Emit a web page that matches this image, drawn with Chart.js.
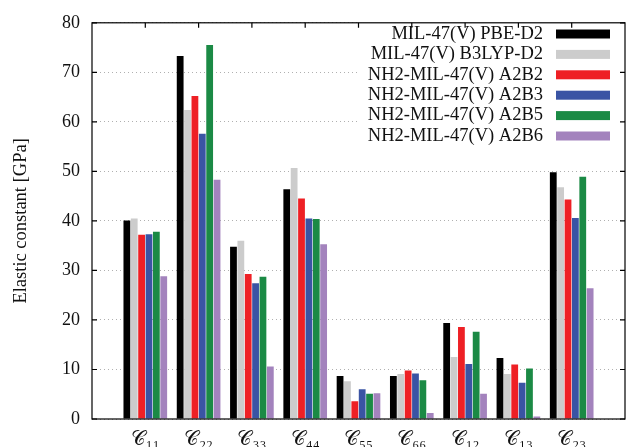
<!DOCTYPE html>
<html lang="en">
<head>
  <meta charset="UTF-8">
  <title>Elastic constants</title>
  <script src="https://cdn.jsdelivr.net/npm/chart.js@4.4.1/dist/chart.umd.min.js"></script>
  <style>
    body { margin: 0; background: #fff; }
    #wrap { width: 634px; height: 447px; }
  </style>
</head>
<body>
  <div id="wrap"><canvas id="myChart"></canvas></div>

  <script>
  // data
  var categories = ['𝒞₁₁', '𝒞₂₂', '𝒞₃₃', '𝒞₄₄', '𝒞₅₅', '𝒞₆₆', '𝒞₁₂', '𝒞₁₃', '𝒞₂₃'];
  var seriesNames = ['MIL-47(V) PBE-D2', 'MIL-47(V) B3LYP-D2', 'NH2-MIL-47(V) A2B2',
                     'NH2-MIL-47(V) A2B3', 'NH2-MIL-47(V) A2B5', 'NH2-MIL-47(V) A2B6'];
  var pbeD2   = [40.1, 73.3, 34.8, 46.4, 8.7, 8.7, 19.4, 12.3, 49.8];
  var b3lypD2 = [40.5, 62.4, 36.0, 50.7, 7.6, 9.1, 12.5, 9.1, 46.8];
  var a2b2    = [37.2, 65.2, 29.3, 44.5, 3.6, 9.8, 18.6, 11.0, 44.3];
  var a2b3    = [37.3, 57.6, 27.4, 40.5, 6.0, 9.2, 11.1, 7.3, 40.6];
  var a2b5    = [37.8, 75.5, 28.7, 40.4, 5.1, 7.8, 17.6, 10.2, 48.9];
  var a2b6    = [28.8, 48.3, 10.6, 35.3, 5.2, 1.2, 5.1, 0.5, 26.4];
  var yTicks  = [0, 10, 20, 30, 40, 50, 60, 70, 80];

  var colors = ['#000000', '#cccccc', '#ee2025', '#3a54a4', '#1b8a45', '#a383bd'];
  var allSeries = [pbeD2, b3lypD2, a2b2, a2b3, a2b5, a2b6];

  // empty slot at each end, like the original x range
  var labels = [''].concat(categories, ['']);
  var datasets = allSeries.map(function(vals, i){
    return {
      label: seriesNames[i],
      data: [null].concat(vals, [null]),
      backgroundColor: colors[i],
      borderWidth: 0,
      categoryPercentage: 0.83,
      barPercentage: 0.92
    };
  });

  var serif = "'Liberation Serif', 'DejaVu Serif', serif";

  var framePlugin = {
    id: 'frame',
    beforeDatasetsDraw: function(chart){
      // opaque key box over the grid
      var ctx = chart.ctx;
      ctx.save();
      ctx.fillStyle = '#fff';
      ctx.fillRect(358, 20, 264, 130);
      ctx.restore();
    },
    afterDraw: function(chart){
      var ctx = chart.ctx, a = chart.chartArea;
      var x = chart.scales.x, y = chart.scales.y;
      ctx.save();
      ctx.strokeStyle = '#000';
      ctx.lineWidth = 1.2;
      ctx.strokeRect(a.left, a.top, a.right - a.left, a.bottom - a.top);
      ctx.beginPath();
      for (var i = 1; i <= categories.length; i++) {
        var px = x.getPixelForValue(i);
        ctx.moveTo(px, a.top); ctx.lineTo(px, a.top + 5);
      }
      yTicks.forEach(function(t){
        var py = y.getPixelForValue(t);
        ctx.moveTo(a.left, py); ctx.lineTo(a.left + 5, py);
        ctx.moveTo(a.right, py); ctx.lineTo(a.right - 5, py);
      });
      ctx.stroke();

      // key
      ctx.font = '18.5px ' + serif;
      ctx.textAlign = 'right';
      ctx.textBaseline = 'middle';
      chart.data.datasets.forEach(function(ds, i){
        var ty = 34 + i * 20.4;
        ctx.fillStyle = '#111';
        ctx.fillText(ds.label, 543, ty);
        ctx.fillStyle = ds.backgroundColor;
        ctx.fillRect(556, ty - 4.5, 54, 9);
      });
      ctx.restore();
    }
  };

  var chart = new Chart(document.getElementById('myChart'), {
    type: 'bar',
    data: { labels: labels, datasets: datasets },
    options: {
      responsive: true,
      maintainAspectRatio: false,
      animation: false,
      layout: { padding: { top: 18, right: 1, left: 0, bottom: 0 } },
      plugins: { legend: { display: false }, tooltip: { enabled: false } },
      scales: {
        x: {
          offset: false,
          grid: { display: false, drawTicks: false },
          border: { display: false },
          ticks: { color: '#111', font: { family: serif, size: 20 }, padding: 9, maxRotation: 0, autoSkip: false },
          afterFit: function(s){ s.height = 28; }
        },
        y: {
          min: 0, max: 80,
          afterBuildTicks: function(s){ s.ticks = yTicks.map(function(v){ return { value: v }; }); },
          grid: { color: '#b0b0b0', lineWidth: 1, drawTicks: false },
          border: { display: false, dash: [1, 3] },
          ticks: { color: '#111', font: { family: serif, size: 18 }, padding: 12 },
          title: { display: true, text: 'Elastic constant [GPa]', color: '#111',
                   font: { family: serif, size: 18.5 }, padding: { top: 10, bottom: 0 } },
          afterFit: function(s){ s.width = 92; }
        }
      }
    },
    plugins: [framePlugin]
  });
  </script>
</body>
</html>
